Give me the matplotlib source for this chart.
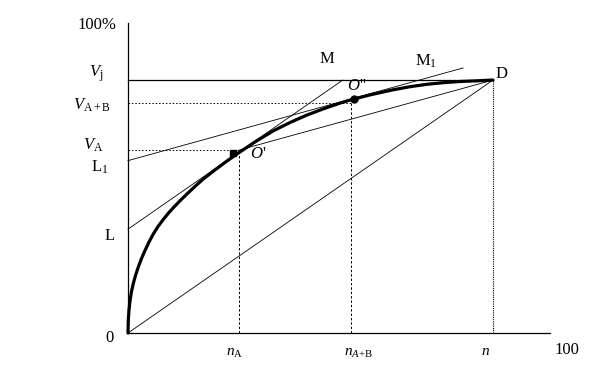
import numpy as np
import matplotlib
matplotlib.use("Agg")
import matplotlib.pyplot as plt

plt.rcParams['font.family'] = ['Liberation Serif', 'DejaVu Serif']
plt.rcParams['mathtext.fontset'] = 'custom'
plt.rcParams['mathtext.rm'] = 'Liberation Serif'
plt.rcParams['mathtext.it'] = 'Liberation Serif:italic'

# curve (x in %, y in %)
curve_x = [0, 0.07, 0.24, 0.47, 0.83, 1.26, 1.78, 2.44, 3.20, 4.03, 4.98,
           6.00, 7.11, 8.36, 9.60, 10.73, 12.32, 13.91, 15.88, 17.84, 20.62,
           23.39, 26.30, 30.33, 34.36, 38.39, 42.42, 46.45, 50.24, 52.84,
           57.35, 62.80, 66.82, 70.85, 74.88, 78.67, 82.70, 86.49]
curve_y = [0, 4.19, 7.42, 10.32, 13.39, 15.97, 18.55, 21.29, 24.03, 26.61,
           29.35, 31.94, 34.35, 36.61, 38.71, 40.39, 42.65, 44.77, 47.29,
           49.68, 52.61, 55.42, 58.19, 61.84, 65.16, 67.90, 70.32, 72.39,
           74.16, 75.23, 76.81, 78.45, 79.45, 80.23, 80.77, 81.13, 81.35, 81.61]

# key points
n_A, n_AB, n_D = 26.3, 52.8, 86.5
V_A, V_AB, V_j = 59.0, 74.2, 81.6
L_val, L1_val = 33.5, 55.6
M_end = (50.9, 81.6)
M1_end = (79.4, 85.5)
mark_A = (25.0, 58.0)
mark_AB = (53.6, 75.4)

fig = plt.figure(figsize=(6.04, 3.89), dpi=100)
ax = fig.add_axes([0, 0, 1, 1])
ax.set_xlim(-30.33, 112.8)
ax.set_ylim(-18.06, 107.42)
ax.axis('off')

k = 'black'
# axes
ax.plot([0, 0], [0, 100], color=k, lw=0.9)
ax.plot([0, 100], [0, 0], color=k, lw=0.9)

# Vj line, guides
ax.plot([0, n_D], [V_j, V_j], color=k, lw=0.9)
ax.plot([n_D, n_D], [0, V_j], color=k, lw=0.8, ls=(0, (1, 1)))
ax.plot([0, n_A], [V_A, V_A], color=k, lw=0.7, ls=(0, (1.5, 2)))
ax.plot([0, n_AB], [V_AB, V_AB], color=k, lw=0.7, ls=(0, (1.5, 2)))
ax.plot([n_A, n_A], [0, V_A], color=k, lw=0.7, ls=(0, (2.5, 2)))
ax.plot([n_AB, n_AB], [0, V_AB], color=k, lw=0.7, ls=(0, (2.5, 2)))

# thin straight lines
ax.plot([0, M_end[0]], [L_val, M_end[1]], color=k, lw=0.6)
ax.plot([0, M1_end[0]], [L1_val, M1_end[1]], color=k, lw=0.6)
ax.plot([n_A, n_D], [V_A, V_j], color=k, lw=0.6)
ax.plot([0, n_D], [0, V_j], color=k, lw=0.6)

# curve
ax.plot(curve_x, curve_y, color=k, lw=2.3, solid_capstyle='round',
        solid_joinstyle='round')
ax.plot(*mark_A, marker='s', ms=5, color=k)
ax.plot(*mark_AB, marker='o', ms=5, color=k)

fs = 12
def lab(x, y, s, size=fs, ha='center'):
    ax.text(x, y, s, fontsize=size, ha=ha, va='center')

# label positions given in picture pixels
def px(xp, yp):
    return (xp - 128) / 4.22, (333 - yp) / 3.1

lab(*px(97, 25), '100%')
lab(*px(96, 74), r'$V_{\mathrm{j}}$')
lab(*px(92, 105), r'$V_{\mathrm{A+B}}$')
lab(*px(93, 145), r'$V_{\mathrm{A}}$')
lab(*px(100, 167), r'L$_1$')
lab(*px(110, 236), 'L')
lab(*px(110, 338), '0')
lab(*px(327, 59), 'M')
lab(*px(426, 61), r'M$_1$')
lab(*px(502, 74), 'D')
lab(*px(357, 86), r"$O$''")
lab(*px(258, 154), r"$O$'")
lab(*px(235, 353), r'$n_{\mathrm{A}}$', size=11)
lab(*px(358, 353), r'$n_{A\mathrm{+B}}$', size=11)
lab(*px(486, 351), r'$n$', size=11)
lab(*px(567, 350), '100')

fig.savefig('out.png', dpi=100)
